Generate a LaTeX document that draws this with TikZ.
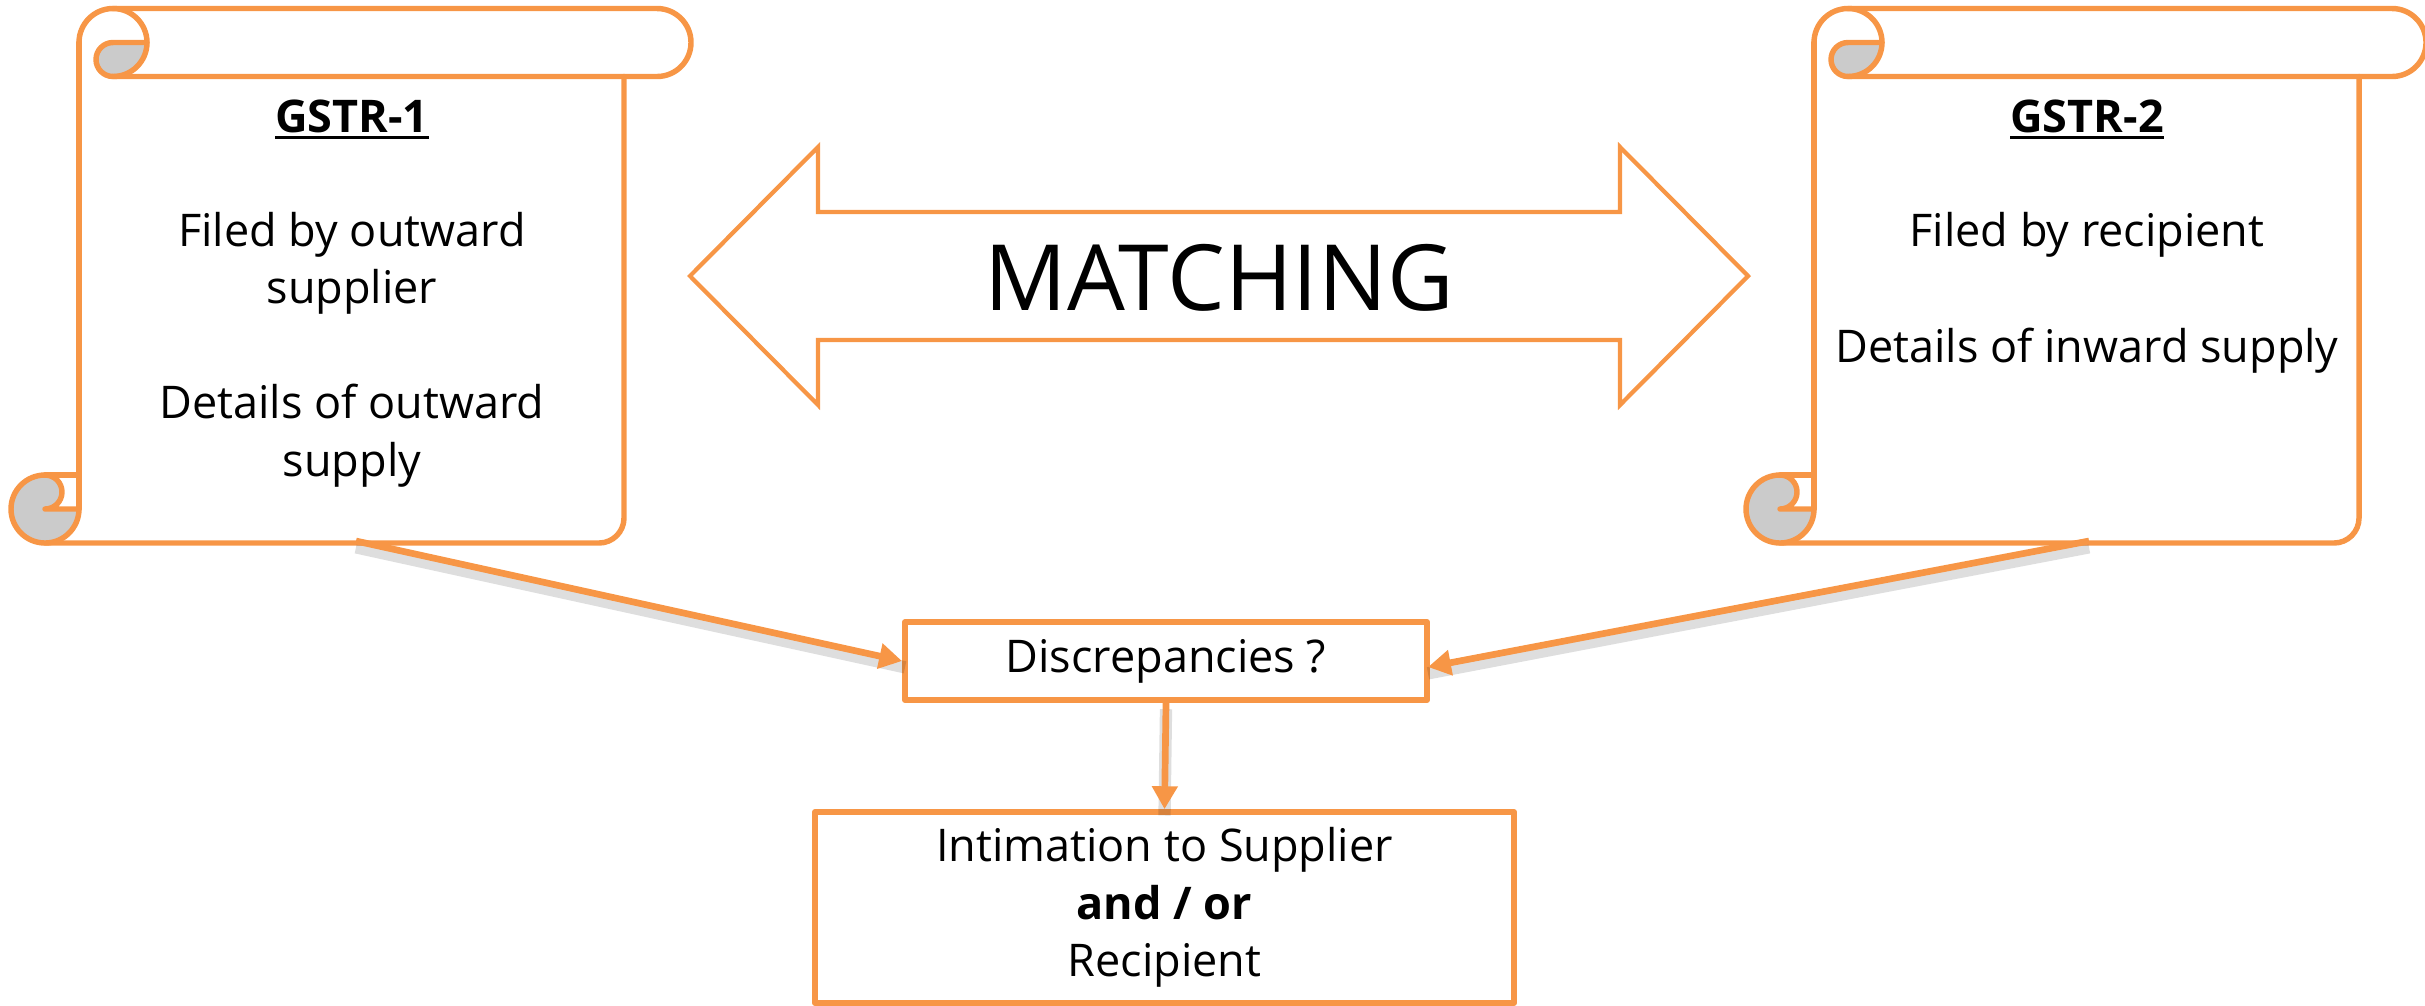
\documentclass[tikz,border=0pt]{standalone}
\usepackage{fontspec}
\setmainfont{Open Sans}
\usetikzlibrary{arrows.meta}
\definecolor{org}{HTML}{F79646}
\definecolor{curlgray}{HTML}{CBCBCB}
\newcommand\gstrul[1]{\vtop{\hbox{#1}\kern1.1pt\hrule height 0.85pt}}
\newcommand\drawscroll{%
  % top-left curl (gray)
  \filldraw[fill=curlgray, outl] (113,42.5) -- (147,42.5) arc[start angle=0,end angle=90,radius=34]
      arc[start angle=90,end angle=270,radius=17] -- cycle;
  % top roll
  \draw[outl] (79,42.5) arc[start angle=180,end angle=360,radius=34];
  \draw[outl] (113,8.5) -- (657,8.5) arc[start angle=270,end angle=450,radius=34] -- (113,76.5);
  % body
  \draw[outl] (79,42.5) -- (79,509);
  \draw[outl] (624,76.5) -- (624,518) arc[start angle=0,end angle=90,radius=25] -- (45,543);
  % bottom-left curl (gray)
  \filldraw[fill=curlgray, outl] (45,475) arc[start angle=270,end angle=0,radius=34] -- (45,509)
      arc[start angle=90,end angle=-90,radius=17] -- cycle;
  \draw[outl] (45,475) -- (79,475);
}
\begin{document}
\begin{tikzpicture}[x=0.01cm,y=-0.01cm, line join=round, line cap=round,
  outl/.style={draw=org, line width=1.55pt},
  arrowoutl/.style={draw=org, line width=1.2pt, line join=miter},
  txt/.style={font=\fontsize{12.8}{16.2}\selectfont, anchor=base, inner sep=0pt},
  boxnode/.style={draw=org, line width=1.6pt, align=center, font=\fontsize{12.8}{16.3}\selectfont, inner sep=0pt},
  conn/.style={draw=org, line width=1.9pt, line cap=butt, -{Triangle[length=6.5pt,width=7pt]}},
  shad/.style={draw=black, line width=3.5pt, opacity=0.13, line cap=butt, transform canvas={yshift=-1.8pt}},
]
\useasboundingbox (0,0) rectangle (2425,1005);

% scrolls
\begin{scope}\drawscroll\end{scope}
\begin{scope}[shift={(1735,0)}]\drawscroll\end{scope}

% scroll texts
\node[txt] (g1) at (352,132) {\gstrul{\textbf{GSTR-1}}};
\node[txt] (l1a) at (352,246) {Filed by outward};
\node[txt] (l1b) at (352,303) {supplier};
\node[txt] (l1c) at (352,418) {Details of outward};
\node[txt] (l1d) at (352,476) {supply};

\node[txt] (g2) at (2087,132) {\gstrul{\textbf{GSTR-2}}};
\node[txt] (l2a) at (2087,246) {Filed by recipient};
\node[txt] (l2b) at (2087,362) {Details of inward supply};

% double arrow
\draw[arrowoutl] (690,276) -- (818,147) -- (818,212) -- (1620,212) -- (1620,147) -- (1748,276)
  -- (1620,405) -- (1620,340) -- (818,340) -- (818,405) -- cycle;
\node[inner sep=0pt, font=\fontsize{26}{30}\selectfont] (match) at (1219,278) {MATCHING};

% boxes
\node[boxnode, minimum width=5.22cm, minimum height=0.78cm] (disc) at (1166,661) {Discrepancies ?};
\node[boxnode, minimum width=6.99cm, minimum height=1.91cm] (intim) at (1164.5,907.5)
  {Intimation to Supplier\\ \textbf{and / or}\\ Recipient};

% connectors
\coordinate (s1b) at (356,541);
\coordinate (s2b) at (2089,541);
\coordinate (discw) at (905,661);
\coordinate (disce) at (1428,667);

\draw[shad] (s1b) -- (discw);
\draw[shad] (s2b) -- (disce);
\draw[shad] (disc.south) -- (intim.north);
\draw[conn] (s1b) -- (disc.west);
\draw[conn] (s2b) -- (disce);
\draw[conn] (disc.south) -- (intim.north);
\end{tikzpicture}
\end{document}
